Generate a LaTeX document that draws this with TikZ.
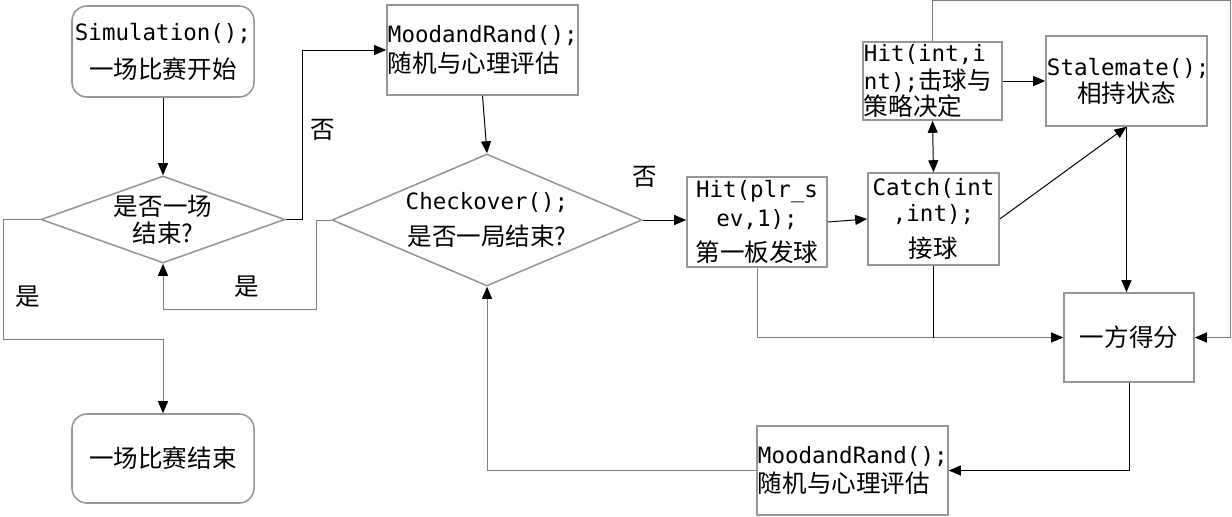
\documentclass[tikz,border=0pt]{standalone}
\usepackage{fontspec}
\setmainfont{DejaVu Sans Mono}
\newfontfamily\cjk[Scale=1.09]{Noto Sans CJK SC}
\usetikzlibrary{shapes.geometric,arrows.meta}
\definecolor{boxgray}{RGB}{150,150,150}
\definecolor{linegray}{RGB}{125,125,125}

\begin{document}
\begin{tikzpicture}[x=0.025cm, y=-0.025cm,
    font=\fontsize{16}{19}\selectfont,
    >={Triangle[length=0.3cm,width=0.25cm,color=black]},
    box/.style={draw=boxgray, line width=1.1pt, inner sep=0.025cm},
    term/.style={box, rounded corners=0.375cm, align=center},
    decision/.style={draw=boxgray, line width=1.1pt, shape=diamond, inner sep=0pt, align=center},
    conn/.style={line width=0.7pt},
    gconn/.style={line width=0.7pt, draw=linegray}]
    \useasboundingbox (0,0) rectangle (1232,516);

    % Match level
    \node[term, text width=4.5cm, minimum height=2.275cm] (start) at (163,51.5) {Simulation();\\[8pt]{\cjk 一场比赛开始}};
    \node[decision, minimum width=6.1cm, minimum height=2.175cm, aspect=2.8] (dec1) at (163,219.5) {{\cjk 是否一场}\\{\cjk 结束?}};
    \node[term, text width=4.5cm, minimum height=2.225cm] (stop) at (163,458.5) {{\cjk 一场比赛结束}};

    % Game level
    \node[box, align=left, text width=4.725cm, minimum height=2.25cm] (mood1) at (482.5,50) {MoodandRand();\\[2pt]{\cjk 随机与心理评估}};
    \node[decision, minimum width=7.75cm, minimum height=3.3cm, aspect=2.35] (dec2) at (487,220) {Checkover();\\[7pt]{\cjk 是否一局结束?}};
    \node[box, align=left, text width=4.725cm, minimum height=2.225cm] (mood2) at (852.5,470.5) {MoodandRand();\\[2pt]{\cjk 随机与心理评估}};

    % Rally level
    \node[box, align=center, text width=3.45cm, minimum height=2.25cm] (serve) at (757,222) {Hit(plr\_s\\[1pt]ev,1);\\[6pt]{\cjk 第一板发球}};
    \node[box, align=center, text width=3.225cm, minimum height=2.3cm] (catch) at (933.5,219) {Catch(int\\,int);\\[6.5pt]{\cjk 接球}};
    \node[box, align=left, text width=3.425cm, minimum height=1.95cm] (hitii) at (932.5,81) {Hit(int,i\\[1pt]nt);{\cjk 击球与}\\{\cjk 策略决定}};
    \node[box, align=center, text width=3.975cm, minimum height=2.25cm] (stale) at (1126.5,81) {Stalemate();\\{\cjk 相持状态}};
    \node[box, align=center, text width=3.2cm, minimum height=2.225cm] (score) at (1129,337.5) {{\cjk 一方得分}};

    % Branch labels
    \node (no1) at (323,130) {\cjk 否};
    \node (yes1) at (28,297) {\cjk 是};
    \node (yes2) at (247,287) {\cjk 是};
    \node (no2) at (645,177) {\cjk 否};

    % Connectors
    \draw[conn,->] (start) -- (dec1);
    \draw[conn,->] (dec1.east) -- ++(17,0) |- (mood1.west);
    \draw[gconn,->] (dec1.west) -| ++(-37,119.5) -| (stop.north);
    \draw[conn,->] (mood1.south) -- (dec2.north);
    \draw[gconn,->] (dec2.west) -| ++(-15,89) -| (dec1.south);
    \draw[conn,->] (dec2.east) -- (dec2.east -| serve.west);
    \draw[conn,->] (serve.east) -- (catch.west);
    \draw[conn,<->] (hitii.south) -- (catch.north);
    \draw[conn,->] (hitii.east) -- (stale.west);
    \draw[gconn,->] (hitii.north) |- ++(298,-41) |- (score.east);
    \draw[conn,->] (catch.east) -- (stale.south);
    \draw[conn,->] (stale.south) -- (stale.south |- score.north);
    \draw[gconn,->] (serve.south) |- (score.west);
    \draw[conn] (catch.south) -- (catch.south |- score.west);
    \draw[conn,->] (score.south) |- (mood2.east);
    \draw[gconn,->] (mood2.west) -| (dec2.south);
\end{tikzpicture}
\end{document}
